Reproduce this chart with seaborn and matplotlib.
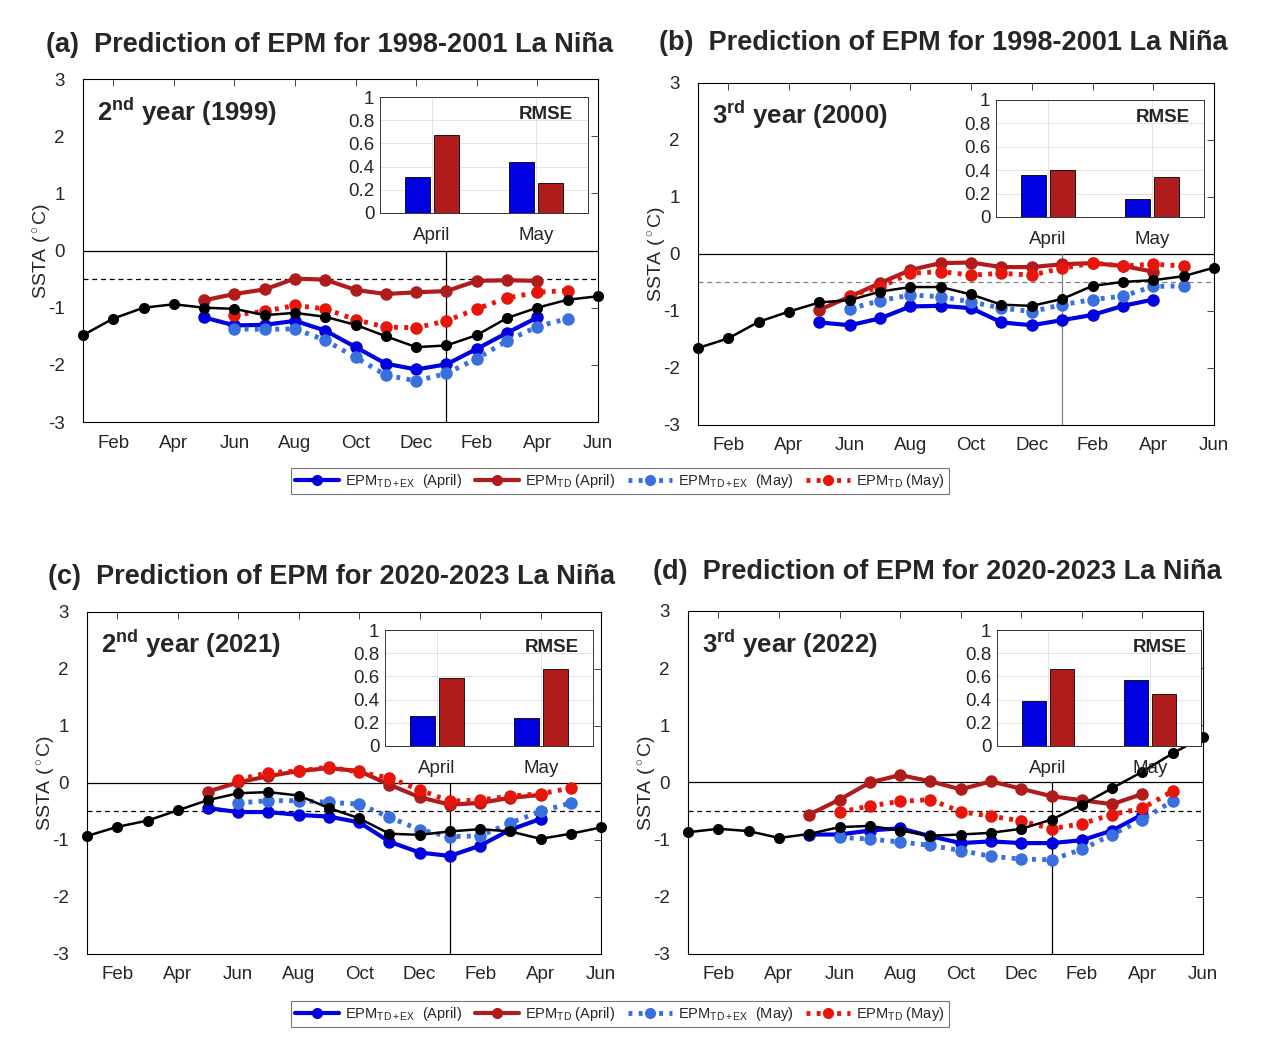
import numpy as np
import pandas as pd
import matplotlib
matplotlib.use('Agg')
import matplotlib.pyplot as plt
from matplotlib.lines import Line2D
import seaborn as sns

# =============================================================================
# Data
# =============================================================================

# month index: 1 = Jan of the 1st year ... 18 = Jun of the next year
months = list(range(1, 19))
tick_months = [2, 4, 6, 8, 10, 12, 14, 16, 18]
tick_labels = ['Feb', 'Apr', 'Jun', 'Aug', 'Oct', 'Dec', 'Feb', 'Apr', 'Jun']
april_months = months[4:16]   # May .. Apr
may_months = months[5:17]     # Jun .. May

# (a) 1998-2001, 2nd year (1999)
obs_a = [-1.48, -1.19, -1.00, -0.94, -1.00, -1.02, -1.13, -1.09, -1.16, -1.30,
         -1.50, -1.69, -1.66, -1.48, -1.18, -1.00, -0.86, -0.80]
tdex_apr_a = [-1.17, -1.31, -1.30, -1.23, -1.40, -1.69, -1.98, -2.08, -1.99, -1.72, -1.44, -1.17]
td_apr_a = [-0.87, -0.76, -0.68, -0.49, -0.51, -0.69, -0.76, -0.73, -0.71, -0.53, -0.52, -0.53]
tdex_may_a = [-1.37, -1.38, -1.37, -1.57, -1.87, -2.18, -2.28, -2.15, -1.89, -1.58, -1.33, -1.19]
td_may_a = [-1.13, -1.06, -0.96, -1.02, -1.21, -1.34, -1.35, -1.23, -1.02, -0.83, -0.73, -0.70]
rmse_tdex_a = [0.31, 0.44]
rmse_td_a = [0.67, 0.26]

# (b) 1998-2001, 3rd year (2000)
obs_b = [-1.65, -1.48, -1.19, -1.01, -0.85, -0.81, -0.66, -0.58, -0.58, -0.71,
         -0.89, -0.91, -0.79, -0.56, -0.49, -0.46, -0.39, -0.24]
tdex_apr_b = [-1.20, -1.25, -1.13, -0.92, -0.91, -0.95, -1.20, -1.25, -1.16, -1.07, -0.91, -0.80]
td_apr_b = [-0.98, -0.75, -0.51, -0.28, -0.16, -0.15, -0.23, -0.23, -0.18, -0.16, -0.21, -0.31]
tdex_may_b = [-0.96, -0.82, -0.72, -0.75, -0.84, -0.95, -1.01, -0.89, -0.80, -0.74, -0.57, -0.56]
td_may_b = [-0.73, -0.58, -0.34, -0.31, -0.37, -0.34, -0.37, -0.25, -0.16, -0.21, -0.18, -0.21]
rmse_tdex_b = [0.36, 0.15]
rmse_td_b = [0.40, 0.34]

# (c) 2020-2023, 2nd year (2021)
obs_c = [-0.93, -0.77, -0.66, -0.48, -0.30, -0.18, -0.16, -0.22, -0.44, -0.62,
         -0.89, -0.91, -0.85, -0.81, -0.85, -0.98, -0.89, -0.78]
tdex_apr_c = [-0.44, -0.51, -0.51, -0.56, -0.59, -0.69, -1.03, -1.22, -1.28, -1.10, -0.82, -0.63]
td_apr_c = [-0.15, 0.01, 0.12, 0.21, 0.26, 0.21, -0.03, -0.25, -0.38, -0.35, -0.26, -0.21]
tdex_may_c = [-0.35, -0.31, -0.31, -0.34, -0.37, -0.60, -0.82, -0.94, -0.93, -0.70, -0.50, -0.35]
td_may_c = [0.06, 0.18, 0.21, 0.28, 0.19, 0.09, -0.12, -0.32, -0.30, -0.23, -0.19, -0.09]
rmse_tdex_c = [0.26, 0.24]
rmse_td_c = [0.59, 0.66]

# (d) 2020-2023, 3rd year (2022)
obs_d = [-0.87, -0.81, -0.85, -0.97, -0.90, -0.78, -0.76, -0.84, -0.93, -0.91,
         -0.88, -0.81, -0.65, -0.39, -0.10, 0.19, 0.51, 0.80]
tdex_apr_d = [-0.91, -0.91, -0.84, -0.80, -0.94, -1.06, -1.03, -1.06, -1.06, -1.01, -0.84, -0.56]
td_apr_d = [-0.56, -0.30, 0.00, 0.13, 0.02, -0.12, 0.02, -0.11, -0.24, -0.31, -0.38, -0.20]
tdex_may_d = [-0.96, -0.99, -1.04, -1.10, -1.19, -1.29, -1.34, -1.35, -1.17, -0.91, -0.65, -0.32]
td_may_d = [-0.52, -0.41, -0.33, -0.30, -0.51, -0.59, -0.67, -0.81, -0.72, -0.56, -0.45, -0.15]
rmse_tdex_d = [0.39, 0.57]
rmse_td_d = [0.66, 0.45]

rmse_months = ['April', 'May']

# =============================================================================
# Styling
# =============================================================================

sns.set_theme(style='white')
plt.rcParams['font.family'] = ['Liberation Sans', 'DejaVu Sans']
plt.rcParams['axes.unicode_minus'] = False
plt.rcParams['mathtext.fontset'] = 'custom'
plt.rcParams['mathtext.rm'] = 'Liberation Sans'
plt.rcParams['mathtext.bf'] = 'Liberation Sans:bold'
plt.rcParams['mathtext.it'] = 'Liberation Sans:italic'

c_tdex_apr = '#0000e0'
c_td_apr = '#b01c1c'
c_tdex_may = '#3a6fe0'
c_td_may = '#e8160a'
dotted = (0, (0.8, 1.3))

fig = plt.figure(figsize=(12.69, 10.58), dpi=100)

panels = [
    dict(pos=[0.0654, 0.6011, 0.4058, 0.3242], ins=[0.2994, 0.7987, 0.1639, 0.1096],
         title='(a)  Prediction of EPM for 1998-2001 La Niña', tpos=(0.260, 0.9575),
         year=r'2$^{\mathbf{nd}}$ year (1999)', refc='black',
         obs=obs_a, ta=tdex_apr_a, da=td_apr_a, tm=tdex_may_a, dm=td_may_a,
         r1=rmse_tdex_a, r2=rmse_td_a),
    dict(pos=[0.5500, 0.5983, 0.4066, 0.3233], ins=[0.7849, 0.7949, 0.1639, 0.1106],
         title='(b)  Prediction of EPM for 1998-2001 La Niña', tpos=(0.743, 0.959),
         year=r'3$^{\mathbf{rd}}$ year (2000)', refc='gray',
         obs=obs_b, ta=tdex_apr_b, da=td_apr_b, tm=tdex_may_b, dm=td_may_b,
         r1=rmse_tdex_b, r2=rmse_td_b),
    dict(pos=[0.0686, 0.0983, 0.4050, 0.3233], ins=[0.3034, 0.2949, 0.1639, 0.1096],
         title='(c)  Prediction of EPM for 2020-2023 La Niña', tpos=(0.2616, 0.4546),
         year=r'2$^{\mathbf{nd}}$ year (2021)', refc='black',
         obs=obs_c, ta=tdex_apr_c, da=td_apr_c, tm=tdex_may_c, dm=td_may_c,
         r1=rmse_tdex_c, r2=rmse_td_c),
    dict(pos=[0.5422, 0.0983, 0.4058, 0.3242], ins=[0.7857, 0.2949, 0.1608, 0.1096],
         title='(d)  Prediction of EPM for 2020-2023 La Niña', tpos=(0.739, 0.4594),
         year=r'3$^{\mathbf{rd}}$ year (2022)', refc='black',
         obs=obs_d, ta=tdex_apr_d, da=td_apr_d, tm=tdex_may_d, dm=td_may_d,
         r1=rmse_tdex_d, r2=rmse_td_d),
]

for p in panels:
    ax = fig.add_axes(p['pos'])

    # reference lines
    ax.axhline(0, color='black', lw=0.9, zorder=1)
    ax.axhline(-0.5, color=p['refc'], lw=0.9, ls=(0, (4, 3)), zorder=1)
    ax.plot([13, 13], [-3, 0], color=p['refc'], lw=0.9, zorder=1)

    # forecasts
    sns.lineplot(x=april_months, y=p['ta'], ax=ax, color=c_tdex_apr, lw=3,
                 marker='o', markersize=9, markeredgewidth=0)
    sns.lineplot(x=april_months, y=p['da'], ax=ax, color=c_td_apr, lw=3,
                 marker='o', markersize=9, markeredgewidth=0)
    sns.lineplot(x=may_months, y=p['tm'], ax=ax, color=c_tdex_may, lw=3.5,
                 linestyle=dotted, marker='o', markersize=9, markeredgewidth=0)
    sns.lineplot(x=may_months, y=p['dm'], ax=ax, color=c_td_may, lw=3.5,
                 linestyle=dotted, marker='o', markersize=9, markeredgewidth=0)
    # observation
    sns.lineplot(x=months, y=p['obs'], ax=ax, color='black', lw=1.8,
                 marker='o', markersize=8, markeredgewidth=0, clip_on=False)

    ax.set_xlim(1, 18)
    ax.set_ylim(-3, 3)
    ax.set_xticks(tick_months)
    ax.set_xticklabels(tick_labels, fontsize=13.5)
    ax.set_yticks(range(-3, 4))
    ax.set_yticklabels([str(v) for v in range(-3, 4)], fontsize=13.5)
    ax.tick_params(direction='in', top=True, right=True, length=5, width=0.7,
                   color='#444444')
    ax.tick_params(axis='x', pad=9)
    ax.tick_params(axis='y', pad=13)
    ax.set_ylabel(r'SSTA ($^\circ$C)', fontsize=14, labelpad=-4)
    for s in ax.spines.values():
        s.set_color('black')
        s.set_linewidth(0.8)

    ax.text(0.027, 0.905, p['year'], transform=ax.transAxes, fontsize=18.5,
            fontweight='bold', va='center', ha='left')
    fig.text(p['tpos'][0], p['tpos'][1], p['title'], fontsize=19.5,
             fontweight='bold', ha='center', va='center')

    # RMSE inset
    ins = fig.add_axes(p['ins'])
    bars = pd.DataFrame({
        'month': rmse_months * 2,
        'rmse': p['r1'] + p['r2'],
        'model': ['TD+EX'] * 2 + ['TD'] * 2,
    })
    sns.barplot(data=bars, x='month', y='rmse', hue='model', saturation=1,
                palette=[c_tdex_apr, c_td_apr], ax=ins, width=0.56, gap=0.16,
                edgecolor='black', linewidth=0.6, legend=False, zorder=3)
    ins.set_xlim(-0.5, 1.5)
    ins.set_ylim(0, 1)
    ins.set_yticks([0, 0.2, 0.4, 0.6, 0.8, 1])
    ins.set_yticklabels(['0', '0.2', '0.4', '0.6', '0.8', '1'], fontsize=13.5)
    ins.set_xticklabels(rmse_months, fontsize=13.5)
    ins.set_xlabel('')
    ins.set_ylabel('')
    ins.grid(True, color='#e3e3e3', lw=0.7, zorder=0)
    ins.set_axisbelow(True)
    ins.tick_params(direction='in', length=0)
    ins.tick_params(axis='x', pad=10)
    ins.tick_params(axis='y', pad=4)
    for s in ins.spines.values():
        s.set_color('#333333')
        s.set_linewidth(0.7)
    ins.text(0.93, 0.85, 'RMSE', transform=ins.transAxes, fontsize=13.5,
             fontweight='bold', ha='right', va='center')

# legends
handles = [
    Line2D([], [], color=c_tdex_apr, lw=3, marker='o', markersize=8, markeredgewidth=0),
    Line2D([], [], color=c_td_apr, lw=3, marker='o', markersize=8, markeredgewidth=0),
    Line2D([], [], color=c_tdex_may, lw=3.5, ls=dotted, marker='o', markersize=8, markeredgewidth=0),
    Line2D([], [], color=c_td_may, lw=3.5, ls=dotted, marker='o', markersize=8, markeredgewidth=0),
]
labels = [r'EPM$_{\mathrm{TD+EX}}$  (April)', r'EPM$_{\mathrm{TD}}$ (April)',
          r'EPM$_{\mathrm{TD+EX}}$  (May)', r'EPM$_{\mathrm{TD}}$ (May)']
for yc in [0.5454, 0.0416]:
    leg = fig.legend(handles, labels, ncol=4, loc='center', bbox_to_anchor=(0.4885, yc),
                     fontsize=10.5, frameon=True, fancybox=False, edgecolor='#555555',
                     handlelength=3.0, handletextpad=0.4, columnspacing=0.9,
                     borderpad=0.3, borderaxespad=0)
    leg.get_frame().set_linewidth(0.8)

fig.savefig('out.png', dpi=100)
